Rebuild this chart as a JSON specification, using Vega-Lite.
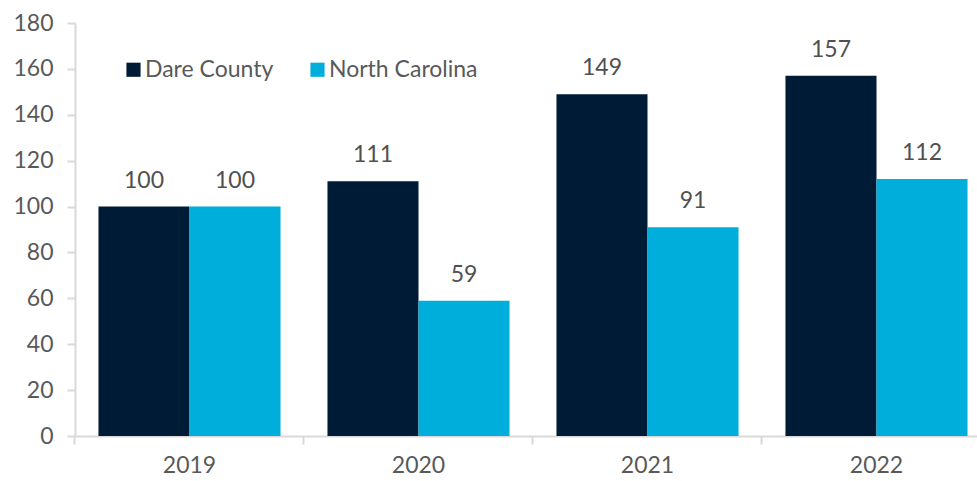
{
  "$schema": "https://vega.github.io/schema/vega-lite/v6.json",
  "width": 902,
  "height": 413,
  "autosize": {"type": "none"},
  "padding": {"left": 75, "top": 23, "right": 0, "bottom": 45},
  "background": "white",
  "config": {
    "view": {"stroke": null},
    "font": "Lato",
    "text": {"font": "Lato"}
  },
  "data": {
    "values": [
      {"year": "2019", "series": "Dare County", "value": 100},
      {"year": "2019", "series": "North Carolina", "value": 100},
      {"year": "2020", "series": "Dare County", "value": 111},
      {"year": "2020", "series": "North Carolina", "value": 59},
      {"year": "2021", "series": "Dare County", "value": 149},
      {"year": "2021", "series": "North Carolina", "value": 91},
      {"year": "2022", "series": "Dare County", "value": 157},
      {"year": "2022", "series": "North Carolina", "value": 112}
    ]
  },
  "encoding": {
    "x": {
      "field": "year",
      "type": "nominal",
      "scale": {"range": [0, 916], "paddingInner": 0.205, "paddingOuter": 0.1025},
      "axis": {
        "title": null,
        "labelAngle": 0,
        "labelFont": "Lato",
        "labelFontSize": 23,
        "labelColor": "#595959",
        "labelPadding": 10,
        "domainColor": "#d9d9d9",
        "domainWidth": 2,
        "tickColor": "#d9d9d9",
        "tickWidth": 2,
        "tickSize": 8,
        "bandPosition": -0.129
      }
    },
    "xOffset": {"field": "series", "type": "nominal", "scale": {"paddingInner": 0, "paddingOuter": 0}},
    "y": {
      "field": "value",
      "type": "quantitative",
      "scale": {"domain": [0, 180], "nice": false},
      "axis": {
        "title": null,
        "values": [0, 20, 40, 60, 80, 100, 120, 140, 160, 180],
        "grid": false,
        "labelFont": "Lato",
        "labelFontSize": 23,
        "labelColor": "#595959",
        "labelPadding": 14,
        "domainColor": "#d9d9d9",
        "domainWidth": 2,
        "tickColor": "#d9d9d9",
        "tickWidth": 2,
        "tickSize": 8
      }
    }
  },
  "layer": [
    {
      "mark": {"type": "bar"},
      "encoding": {
        "color": {
          "field": "series",
          "type": "nominal",
          "scale": {"domain": ["Dare County", "North Carolina"], "range": ["#001b36", "#00aedc"]},
          "legend": {
            "title": null,
            "orient": "none",
            "direction": "horizontal",
            "legendX": 47,
            "legendY": 35,
            "symbolType": "square",
            "symbolSize": 200,
            "symbolStrokeWidth": 0,
            "labelFont": "Lato",
            "labelFontSize": 23,
            "labelColor": "#595959",
            "labelOffset": 0,
            "columnPadding": 32
          }
        }
      }
    },
    {
      "mark": {"type": "text", "baseline": "bottom", "dy": -14, "fontSize": 23, "color": "#505050", "font": "Lato"},
      "encoding": {"text": {"field": "value", "type": "quantitative"}}
    }
  ]
}
